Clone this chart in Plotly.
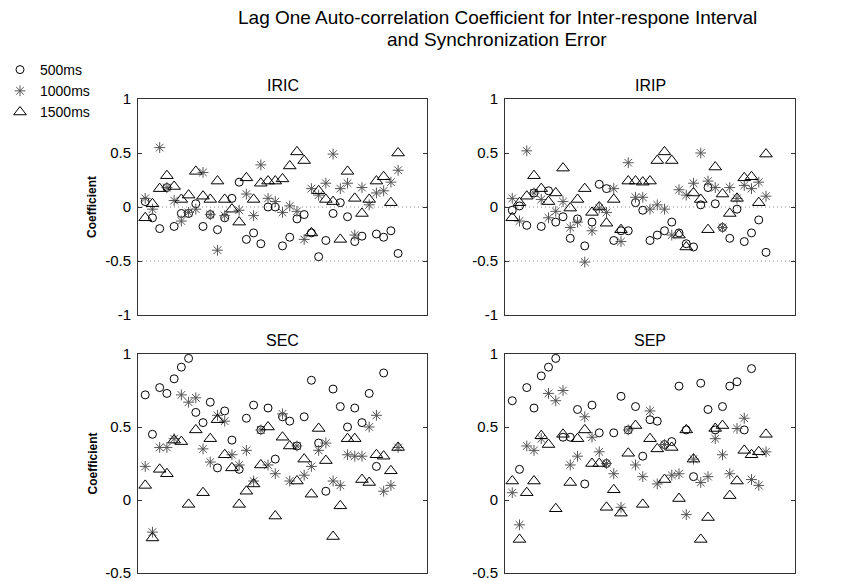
import plotly.graph_objects as go

# ---------------- data ----------------
subject = list(range(1, 37))
series_names = ["500ms", "1000ms", "1500ms"]
panel_titles = ["IRIC", "IRIP", "SEC", "SEP"]
title_lines = ["Lag One Auto-correlation Coefficient for Inter-respone Interval", "and Synchronization Error"]
y_label = "Coefficient"

iric_500 = [0.05, -0.10, -0.20, 0.18, -0.18, -0.06, -0.06, 0.03, -0.18, -0.07, -0.21, -0.10, 0.08, 0.23, -0.30, -0.24, -0.34, 0.00,
            0.00, -0.36, -0.28, -0.11, -0.07, -0.24, -0.46, -0.31, -0.06, 0.04, -0.09, -0.32, -0.27, None, -0.25, -0.28, -0.22, -0.43]
iric_1000 = [0.08, -0.02, 0.55, 0.18, 0.06, -0.13, -0.05, -0.02, 0.32, -0.07, -0.40, -0.08, None, -0.03, 0.12, -0.08, 0.39, 0.08,
             0.05, -0.05, 0.01, -0.04, -0.30, 0.17, 0.11, 0.22, 0.49, 0.17, 0.22, -0.26, 0.18, 0.02, 0.13, 0.15, 0.23, 0.34]
iric_1500 = [-0.10, 0.03, 0.17, 0.29, 0.19, 0.07, 0.11, 0.33, 0.10, 0.07, 0.24, 0.07, -0.02, -0.14, 0.27, 0.07, 0.22, 0.24,
             0.24, 0.26, 0.38, 0.51, 0.43, -0.24, 0.15, 0.07, 0.05, -0.30, 0.33, 0.08, -0.06, 0.07, 0.24, 0.28, 0.04, 0.50]

irip_500 = [-0.03, 0.01, -0.17, 0.13, -0.18, 0.15, -0.14, -0.09, -0.29, -0.11, -0.36, -0.14, 0.21, 0.17, -0.31, -0.22, -0.22, 0.04,
            -0.03, -0.31, -0.26, -0.22, -0.14, -0.24, -0.34, -0.37, 0.02, 0.18, 0.03, -0.19, -0.29, -0.02, -0.32, -0.24, -0.12, -0.42]
irip_1000 = [0.08, -0.13, 0.52, 0.13, 0.07, -0.10, -0.04, 0.05, -0.19, -0.14, -0.51, -0.22, -0.01, -0.05, 0.17, -0.32, 0.41, 0.09,
             0.09, -0.02, 0.02, -0.02, -0.26, 0.16, 0.11, 0.22, 0.50, 0.24, 0.18, -0.19, 0.18, 0.08, 0.20, 0.17, 0.23, 0.10]
irip_1500 = [-0.10, 0.04, 0.10, 0.29, 0.17, 0.05, 0.13, 0.36, -0.01, 0.07, 0.17, -0.05, 0.00, -0.15, 0.07, -0.21, 0.24, 0.24,
             0.23, 0.24, 0.43, 0.51, 0.43, -0.26, -0.37, 0.13, 0.07, -0.21, 0.37, 0.12, -0.06, 0.08, 0.27, 0.28, 0.04, 0.49]

sec_500 = [0.72, 0.45, 0.77, 0.73, 0.83, 0.91, 0.97, 0.60, 0.53, 0.67, 0.22, 0.61, 0.41, 0.21, 0.56, 0.65, 0.48, 0.63,
           0.28, 0.57, 0.54, 0.37, 0.57, 0.82, 0.39, 0.06, 0.76, 0.64, 0.50, 0.63, 0.53, 0.73, 0.23, 0.87, None, None]
sec_1000 = [0.23, -0.22, 0.36, 0.36, 0.42, 0.72, 0.67, 0.70, 0.35, 0.26, 0.58, 0.54, 0.31, 0.24, 0.34, 0.13, 0.48, 0.24,
            0.18, 0.59, 0.13, 0.37, 0.17, 0.23, 0.34, 0.39, 0.13, 0.10, 0.31, 0.30, 0.30, 0.50, 0.58, 0.06, 0.10, 0.36]
sec_1500 = [0.10, -0.26, 0.21, 0.18, 0.41, 0.40, -0.03, 0.48, 0.05, 0.42, 0.55, 0.31, 0.22, -0.03, 0.06, 0.11, 0.24, 0.50,
            -0.11, 0.43, 0.37, 0.13, 0.28, 0.04, 0.49, 0.27, -0.25, -0.04, 0.42, 0.42, 0.14, 0.12, 0.31, 0.30, 0.20, 0.36]

sep_500 = [0.68, 0.21, 0.77, 0.63, 0.85, 0.91, 0.97, 0.43, 0.43, 0.62, 0.11, 0.65, 0.46, 0.25, 0.46, 0.71, 0.48, 0.64,
           0.30, 0.55, 0.54, 0.38, 0.40, 0.78, 0.48, 0.16, 0.80, 0.62, 0.48, 0.64, 0.78, 0.81, 0.48, 0.90, None, None]
sep_1000 = [0.05, -0.17, 0.37, 0.34, 0.42, 0.73, 0.68, 0.75, 0.24, 0.30, 0.57, 0.43, 0.33, 0.25, 0.18, -0.05, 0.48, 0.24,
            0.16, 0.61, 0.11, 0.38, 0.17, 0.18, -0.10, 0.28, 0.12, 0.16, 0.42, 0.31, 0.18, 0.49, 0.56, 0.14, 0.10, 0.33]
sep_1500 = [0.13, -0.27, 0.05, 0.13, 0.44, 0.38, -0.06, 0.45, 0.12, 0.42, 0.48, 0.25, 0.25, -0.05, 0.07, -0.09, 0.32, 0.51,
            -0.03, 0.42, 0.35, 0.14, 0.36, 0.01, 0.48, 0.28, -0.27, -0.12, 0.49, 0.51, 0.03, 0.13, 0.34, 0.31, 0.33, 0.45]

ir_ticks = [-1, -0.5, 0, 0.5, 1]
se_ticks = [-0.5, 0, 0.5, 1]
ir_ref_lines = [0, -0.5]

panel_data = [
    (iric_500, iric_1000, iric_1500),
    (irip_500, irip_1000, irip_1500),
    (sec_500, sec_1000, sec_1500),
    (sep_500, sep_1000, sep_1500),
]

# ---------------- layout geometry ----------------
W, H = 841, 581
FONT = "Liberation Sans, Arial, Helvetica, sans-serif"
col_px = [(138, 427), (505, 795)]   # page pixel coordinates
row_px = [(99, 315), (354, 573)]

def px(x):
    return x / W

def py(y):
    return 1 - y / H

def xdom(c):
    a, b = col_px[c]
    return [px(a), px(b)]

def ydom(r):
    a, b = row_px[r]
    return [py(b), py(a)]

styles = [
    dict(symbol="circle-open", size=8, color="black", line=dict(width=1, color="black")),
    dict(symbol="asterisk-open", size=9, color="#555555", line=dict(width=1, color="#555555")),
    dict(symbol="triangle-up-open", size=11, color="black", line=dict(width=1, color="black")),
]

fig = go.Figure()
layout_axes = {}
shapes = []
annotations = []

for p in range(4):
    r, c = divmod(p, 2)
    ax = "" if p == 0 else str(p + 1)
    xa, ya = "x" + ax, "y" + ax
    for s in range(3):
        fig.add_trace(go.Scatter(
            x=subject, y=panel_data[p][s], mode="markers", name=series_names[s],
            marker=styles[s], xaxis=xa, yaxis=ya, showlegend=(p == 0),
            cliponaxis=True, hoverinfo="skip",
        ))
    is_ir = r == 0
    tv = ir_ticks if is_ir else se_ticks
    layout_axes["xaxis" + ax] = dict(
        domain=xdom(c), range=[0, 40], showticklabels=False, ticks="",
        showgrid=False, zeroline=False, showline=True, linecolor="#333333",
        linewidth=1, mirror=True, anchor=ya, automargin=False, fixedrange=True,
    )
    layout_axes["yaxis" + ax] = dict(
        domain=ydom(r), range=[-1, 1] if is_ir else [-0.5, 1],
        tickvals=tv, ticktext=[("%g" % v) for v in tv],
        ticks="inside", ticklen=4, tickcolor="#333333",
        showgrid=False, zeroline=False, showline=True, linecolor="#333333",
        linewidth=1, mirror="ticks", anchor=xa, automargin=False, fixedrange=True,
        ticklabelstandoff=3, ticklabeloverflow="allow",
        tickfont=dict(family=FONT, size=15, color="black"),
    )
    if is_ir:
        for v in ir_ref_lines:
            shapes.append(dict(type="line", xref=xa + " domain", yref=ya,
                               x0=0, x1=1, y0=v, y1=v,
                               line=dict(color="#888888", width=1, dash="1px,3px"),
                               layer="below"))
    a, b = col_px[c]
    annotations.append(dict(text=panel_titles[p], x=px((a + b) / 2), y=py(row_px[r][0] - 14),
                            xref="paper", yref="paper", xanchor="center", yanchor="middle",
                            showarrow=False, font=dict(family=FONT, size=16, color="black")))
    if c == 0:
        y0, y1 = row_px[r]
        annotations.append(dict(text="<b>%s</b>" % y_label, x=px(92), y=py((y0 + y1) / 2),
                                xref="paper", yref="paper", xanchor="center", yanchor="middle",
                                textangle=-90, showarrow=False,
                                font=dict(family=FONT, size=12, color="black")))

for line, yc in zip(title_lines, [18, 40]):
    annotations.append(dict(text=line, x=px(497), y=py(yc), xref="paper", yref="paper",
                            xanchor="center", yanchor="middle", showarrow=False,
                            font=dict(family=FONT, size=19, color="black")))

fig.update_layout(
    template="none",
    width=W, height=H, margin=dict(l=0, r=0, t=0, b=0, autoexpand=False),
    paper_bgcolor="white", plot_bgcolor="white",
    shapes=shapes, annotations=annotations, hovermode=False,
    legend=dict(x=0, y=py(54), xanchor="left", yanchor="top",
                font=dict(family=FONT, size=14, color="black"),
                bgcolor="rgba(0,0,0,0)", borderwidth=0, tracegroupgap=0),
    **layout_axes,
)

fig.write_html("out.html", config={"displayModeBar": False, "staticPlot": True},
               post_script="document.body.style.margin='0px';document.body.style.overflow='hidden';")
